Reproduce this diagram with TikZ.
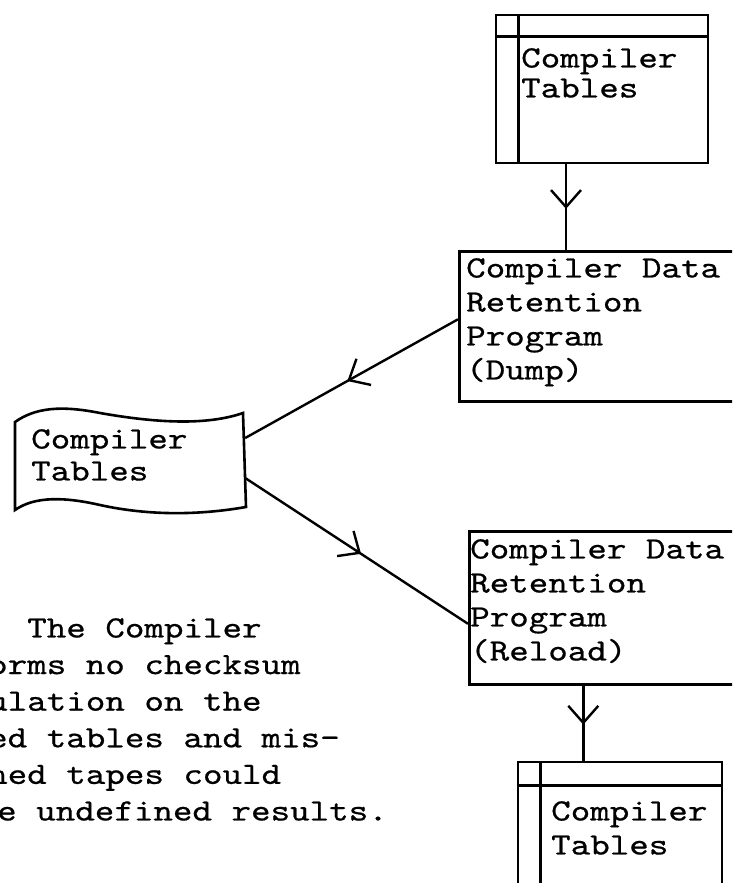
\documentclass[tikz,border=0pt]{standalone}
\usepackage{fontspec}
\usetikzlibrary{arrows.meta,decorations.markings}

\newfontfamily\typewriter{lmmono10-regular.otf}[FakeStretch=1.2,FakeBold=0.6]

\tikzstyle{store} = [rectangle,draw,line width=2.6pt,inner sep=0pt]
\tikzstyle{prog} = [rectangle,draw,line width=2.6pt,inner sep=0pt,anchor=north west]
\tikzstyle{txt} = [anchor=north west,align=left,inner sep=0pt,font=\typewriter\fontsize{31}{34}\selectfont]
\tikzstyle{rule} = [line width=2.6pt]
\tikzstyle{flow} = [line width=2.4pt,postaction={decorate},
  decoration={markings,mark=at position .52 with {\arrow{Straight Barb[length=17pt,width=30pt,line width=2.4pt]}}}]

\begin{document}
\begin{tikzpicture}[x=1pt,y=-1pt]
\useasboundingbox (0,0) rectangle (732,883);
\clip (0,0) rectangle (732,883);

% tables
\node[store,minimum width=212pt,minimum height=148pt] (tab1) at (602,89) {};
\draw[rule] ([xshift=24pt]tab1.north west) -- ([xshift=24pt]tab1.south west);
\draw[rule] ([yshift=-23pt]tab1.north west) -- ([yshift=-23pt]tab1.north east);
\node[txt] (tab1text) at (521,48) {Compiler\\[-4pt]Tables};

\node[store,minimum width=204pt,minimum height=140pt] (tab2) at (620,832) {};
\draw[rule] ([xshift=24pt]tab2.north west) -- ([xshift=24pt]tab2.south west);
\draw[rule] ([yshift=-25pt]tab2.north west) -- ([yshift=-25pt]tab2.north east);
\node[txt] (tab2text) at (551,801) {Compiler\\Tables};

% programs
\node[prog,minimum width=302pt,minimum height=150pt] (dump) at (458,250) {};
\node[txt] (dumptext) at (466,258) {Compiler Data\\Retention\\Program\\(Dump)};

\node[prog,minimum width=292pt,minimum height=153pt] (reload) at (468,530) {};
\node[txt] (reloadtext) at (470,539) {Compiler Data\\Retention\\Program\\(Reload)};

% tape
\node[minimum width=230pt,minimum height=97pt] (tape) at (130,461) {};
\draw[rule] (15,422) .. controls (35,408) and (60,405) .. (100,413)
  .. controls (140,420) and (200,428) .. (243,413) -- (246,507)
  .. controls (200,515) and (150,516) .. (100,505)
  .. controls (65,497) and (35,496) .. (15,510) -- cycle;
\node[txt] (tapetext) at (31,429) {Compiler\\[-2pt]Tables};

% edges
\draw[flow] ([xshift=-36pt]tab1.south) -- ([xshift=-36pt]tab1.south |- dump.north);
\draw[flow] ([yshift=7pt]dump.west) -- ([yshift=23pt]tape.east);
\draw[flow] ([yshift=-17pt]tape.east) -- ([yshift=-16pt]reload.west);
\draw[flow] ([xshift=-32pt]reload.south) -- ([xshift=-32pt]reload.south |- tab2.north);

% note
\node[txt,font=\typewriter\fontsize{31}{36.6}\selectfont] (note) at (-12,618)
  {~~The Compiler\\orms no checksum\\ulation on the\\ed tables and mis-\\hed tapes could\\\hspace*{9pt}e undefined results.};

\end{tikzpicture}
\end{document}
